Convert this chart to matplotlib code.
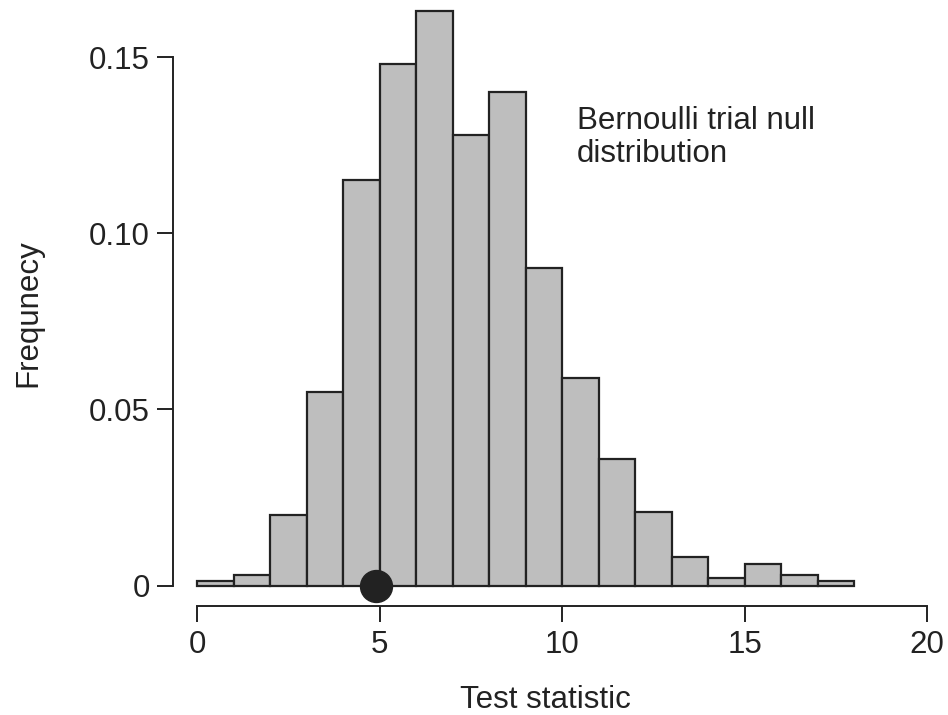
import matplotlib
matplotlib.use("Agg")
import matplotlib.pyplot as plt

# null distribution of the test statistic (bins of width 1)
bin_edges = list(range(19))
freq = [0.0012, 0.003, 0.020, 0.055, 0.115, 0.148, 0.163, 0.128, 0.140,
        0.090, 0.059, 0.036, 0.021, 0.008, 0.002, 0.006, 0.003, 0.0013]
observed = 4.9

xticks = [0, 5, 10, 15, 20]
yticks = [0, 0.05, 0.10, 0.15]
ytick_labels = ["0", "0.05", "0.10", "0.15"]

plt.rcParams['font.family'] = ['Liberation Sans', 'DejaVu Sans']
ink = '#222222'

W, H = 948, 715
fig = plt.figure(figsize=(W / 100, H / 100), dpi=100)

# axes box: left spine at x=173px, bottom spine at y=605.7px
left_px, bottom_px, right_px, top_px = 173, 605.7, 940, 8
ax = fig.add_axes([left_px / W, (H - bottom_px) / H,
                   (right_px - left_px) / W, (bottom_px - top_px) / H])

x0_px, xscale = 197.3, 36.5
y0_px, yscale = 585.5, 3523.0
ax.set_xlim((left_px - x0_px) / xscale, (right_px - x0_px) / xscale)
ax.set_ylim(-(bottom_px - y0_px) / yscale, (y0_px - top_px) / yscale)

ax.bar(bin_edges[:-1], freq, width=1, align='edge', color='#bebebe',
       edgecolor=ink, linewidth=1.6, zorder=2)
ax.plot([observed], [0], 'o', color=ink, markersize=23, zorder=3,
        clip_on=False)

# va='baseline' pins the last line's baseline
ax.text(10.39, 0.1203, "Bernoulli trial null\ndistribution", fontsize=22.5,
        color=ink, ha='left', va='baseline', linespacing=1.1)

for side in ['top', 'right']:
    ax.spines[side].set_visible(False)
for side in ['left', 'bottom']:
    ax.spines[side].set_color(ink)
    ax.spines[side].set_linewidth(1.4)
ax.spines['bottom'].set_bounds(0, 20)
ax.spines['left'].set_bounds(0, 0.15)

ax.set_xticks(xticks)
ax.set_xticklabels([str(t) for t in xticks])
ax.set_yticks(yticks)
ax.set_yticklabels(ytick_labels)
ax.tick_params(axis='both', direction='out', length=11.5, width=1.4,
               color=ink, labelcolor=ink, labelsize=22.5)
ax.tick_params(axis='x', pad=6)
ax.tick_params(axis='y', pad=5)

fig.text(545 / W, 1 - 708 / H, "Test statistic", fontsize=22.5, color=ink,
         ha='center', va='baseline')
fig.text(28 / W, 1 - 313 / H, "Frequnecy", fontsize=22.5, color=ink,
         ha='center', va='center', rotation=90)

fig.savefig("out.png", dpi=100)
